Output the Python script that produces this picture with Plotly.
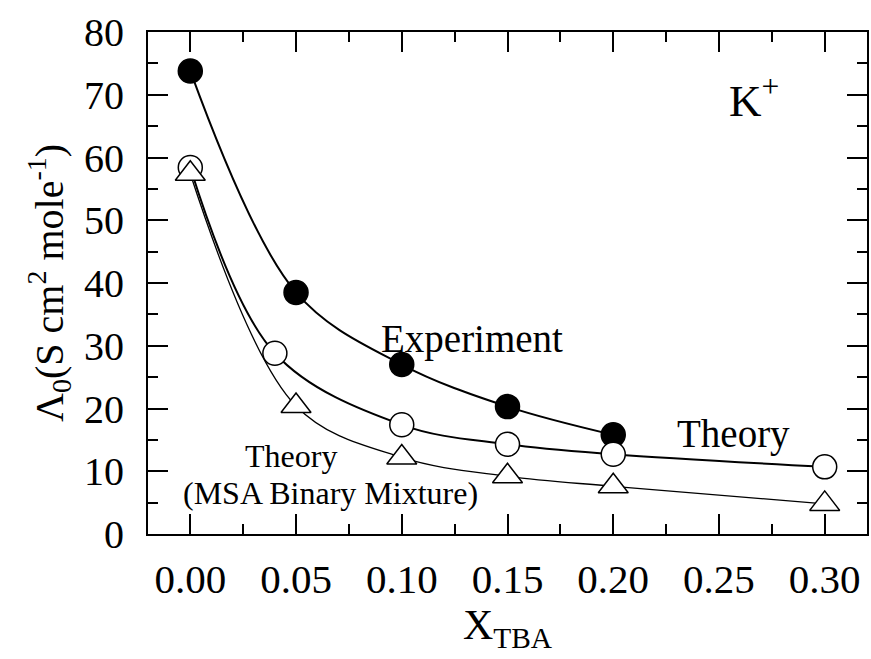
import plotly.graph_objects as go

# Limiting molar conductivity of K+ vs TBA mole fraction
x_exp = [0.00, 0.05, 0.10, 0.15, 0.20]
y_exp = [73.8, 38.5, 27.0, 20.3, 15.8]

x_theory = [0.00, 0.04, 0.10, 0.15, 0.20, 0.30]
y_theory = [58.4, 28.8, 17.4, 14.3, 12.7, 10.7]

x_msa = [0.00, 0.05, 0.10, 0.15, 0.20, 0.30]
y_msa = [57.4, 20.4, 12.2, 9.2, 7.6, 4.8]

x_ticks = [0.00, 0.05, 0.10, 0.15, 0.20, 0.25, 0.30]
y_ticks = [0, 10, 20, 30, 40, 50, 60, 70, 80]

FONT = "Times New Roman, Liberation Serif, DejaVu Serif, serif"

fig = go.Figure()

fig.add_trace(go.Scatter(
    x=x_exp, y=y_exp, mode="lines+markers", name="Experiment",
    line=dict(color="black", width=2, shape="spline", smoothing=1),
    marker=dict(symbol="circle", size=24, color="black",
                line=dict(color="black", width=1.5)),
))
fig.add_trace(go.Scatter(
    x=x_theory, y=y_theory, mode="lines+markers", name="Theory",
    line=dict(color="black", width=2, shape="spline", smoothing=1),
    marker=dict(symbol="circle", size=24, color="white",
                line=dict(color="black", width=1.5)),
))
fig.add_trace(go.Scatter(
    x=x_msa, y=y_msa, mode="lines+markers", name="Theory (MSA Binary Mixture)",
    line=dict(color="black", width=1.3, shape="spline", smoothing=1),
    marker=dict(symbol="triangle-up", size=26, color="white",
                line=dict(color="black", width=1.5)),
))

axis_common = dict(
    showline=True, linecolor="black", linewidth=2, mirror="ticks",
    ticks="inside", ticklen=20, tickwidth=2, tickcolor="black",
    showgrid=False, zeroline=False,
)

fig.update_xaxes(
    **axis_common,
    range=[-0.02, 0.32], tickvals=x_ticks, tickformat=".2f",
    tickfont=dict(family=FONT, size=41, color="black"),
    ticklabelstandoff=8,
    minor=dict(ticks="inside", ticklen=10, tickwidth=2, tickcolor="black", dtick=0.025),
    title=dict(text="X<sub>TBA</sub>", font=dict(family=FONT, size=42, color="black"),
               standoff=4),
)
fig.update_yaxes(
    **axis_common,
    range=[0, 80], tickvals=y_ticks,
    tickfont=dict(family=FONT, size=40, color="black"),
    ticklabelstandoff=14,
    minor=dict(ticks="inside", ticklen=10, tickwidth=2, tickcolor="black", dtick=5),
    title=dict(text="Λ<sub>0</sub>(S cm<sup>2</sup> mole<sup>-1</sup>)",
               font=dict(family=FONT, size=40, color="black"), standoff=8),
)

ann_font = dict(family=FONT, color="black")
fig.add_annotation(x=0.1331, y=31.0, text="Experiment", showarrow=False,
                   font=dict(size=39, **ann_font))
fig.add_annotation(x=0.2567, y=15.9, text="Theory", showarrow=False,
                   font=dict(size=39, **ann_font))
fig.add_annotation(x=0.0476, y=12.4, text="Theory", showarrow=False,
                   font=dict(size=32, **ann_font))
fig.add_annotation(x=0.0665, y=6.5, text="(MSA Binary Mixture)", showarrow=False,
                   font=dict(size=32, **ann_font))
fig.add_annotation(x=0.2665, y=69.5, text="K<sup>+</sup>", showarrow=False,
                   font=dict(size=45, **ann_font))

fig.update_layout(
    width=871, height=659,
    margin=dict(l=148, r=2, t=32, b=125),
    paper_bgcolor="white", plot_bgcolor="white",
    showlegend=False,
    font=dict(family=FONT, color="black"),
)

fig.write_html("out.html")
